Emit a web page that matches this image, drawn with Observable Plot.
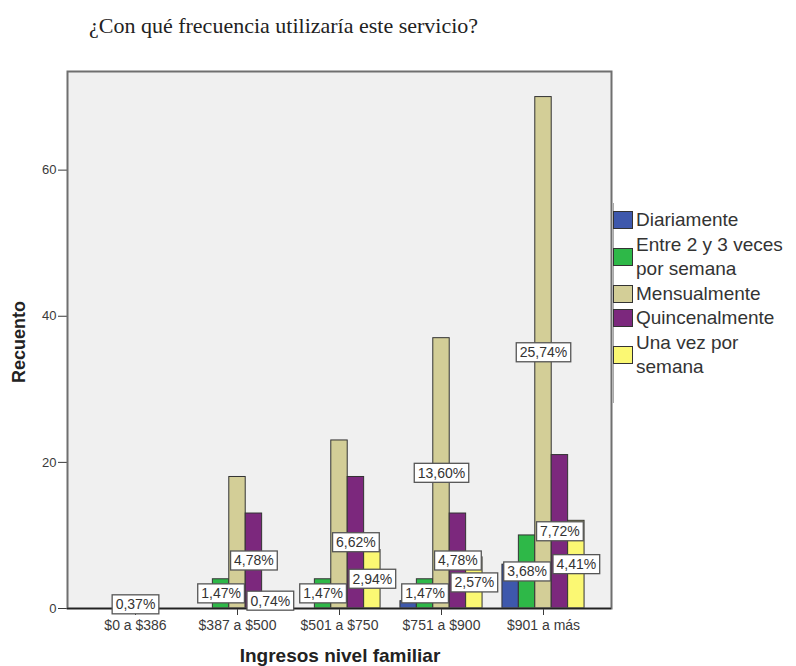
<!DOCTYPE html>
<html>
<head>
<meta charset="utf-8">
<script src="https://cdn.jsdelivr.net/npm/d3@7"></script>
<script src="https://cdn.jsdelivr.net/npm/@observablehq/plot@0.6"></script>
<style>
  body { margin: 0; background: #fff; }
  #lienzo { position: relative; width: 796px; height: 666px; overflow: hidden;
            font-family: "Liberation Sans", Arial, sans-serif; color: #333; }
  #titulo { position: absolute; left: 89px; top: 12px; white-space: nowrap;
            font-family: "Liberation Serif", "Times New Roman", serif;
            font-size: 22px; line-height: 28px; color: #222; }
  #grafico { position: absolute; left: 0; top: 48px; }
  #ejeY { position: absolute; left: 19px; top: 342px; white-space: nowrap;
          transform: translate(-50%, -50%) rotate(-90deg);
          font-weight: bold; font-size: 18px; color: #222; }
  #ejeX { position: absolute; left: 340px; top: 646px; white-space: nowrap;
          transform: translateX(-50%); line-height: 20px;
          font-weight: bold; font-size: 19px; color: #222; }
  #borde { position: absolute; left: 613px; top: 203px; width: 1px; height: 200px; background: #a8a8a8; }
  #leyenda { position: absolute; left: 613px; top: 208px; }
  .item { display: flex; align-items: center; }
  .muestra { width: 18px; height: 16px; border: 1px solid #333; margin-right: 3px; flex: none; }
  .nombre { font-size: 19px; line-height: 24.5px; width: 160px; color: #333; }
</style>
</head>
<body>
<div id="lienzo">
  <div id="titulo">¿Con qué frecuencia utilizaría este servicio?</div>
  <div id="grafico"></div>
  <div id="ejeY">Recuento</div>
  <div id="ejeX">Ingresos nivel familiar</div>
  <div id="borde"></div>
  <div id="leyenda"></div>
</div>
<script>
// Income brackets (x axis) and answer categories (series)
const grupos = ["$0 a $386", "$387 a $500", "$501 a $750", "$751 a $900", "$901 a más"];
const frecuencias = ["Diariamente", "Entre 2 y 3 veces por semana", "Mensualmente", "Quincenalmente", "Una vez por semana"];
const colores = ["#3e58ac", "#2eb848", "#d3ce97", "#7c287d", "#fbf873"];

// Counts per income bracket, one array per answer
const diariamente    = [0, 0, 0, 1, 6];
const entre2y3       = [0, 4, 4, 4, 10];
const mensualmente   = [1, 18, 23, 37, 70];
const quincenalmente = [0, 13, 18, 13, 21];
const unaVez         = [0, 2, 8, 7, 12];

// Bars whose percentage label is left out (it would collide with its neighbours)
const sinEtiqueta = [
  ["$387 a $500", "Mensualmente"],
  ["$501 a $750", "Mensualmente"],
  ["$751 a $900", "Diariamente"],
  ["$901 a más", "Diariamente"]
];
const ticksY = [0, 20, 40, 60];

const series = [diariamente, entre2y3, mensualmente, quincenalmente, unaVez];
const filas = grupos.flatMap((g, i) =>
  frecuencias.map((f, j) => ({grupo: g, frecuencia: f, n: series[j][i], i, j})));
const total = d3.sum(filas, d => d.n);

// Clustered layout: each bracket sits at an integer position, bars side by side
const ancho = 0.161;
const izq = d => d.i + (d.j - 2.5) * ancho;
const der = d => d.i + (d.j - 1.5) * ancho;
const centro = d => d.i + (d.j - 2) * ancho;
const porcentaje = d => (d.n / total * 100).toFixed(2).replace(".", ",") + "%";

const etiquetas = filas.filter(d => d.n > 0 &&
  !sinEtiqueta.some(([g, f]) => g === d.grupo && f === d.frecuencia));

const plot = Plot.plot({
  width: 796,
  height: 618,
  marginTop: 23,
  marginRight: 185,
  marginBottom: 58,
  marginLeft: 67,
  x: {domain: [-2 / 3, grupos.length - 1 + 2 / 3]},
  y: {domain: [0, 73.5]},
  color: {domain: frecuencias, range: colores},
  style: {fontFamily: "'Liberation Sans', Arial, sans-serif", color: "#3a3a3a", background: "transparent"},
  marks: [
    Plot.frame({fill: "#f0f0f0", stroke: null}),
    Plot.axisY(ticksY, {tickSize: 9, tickPadding: 2, label: null, fontSize: 13}),
    Plot.axisX(d3.range(grupos.length), {tickFormat: i => grupos[i], tickSize: 7, tickPadding: 5, label: null, fontSize: 14}),
    Plot.rect(filas.filter(d => d.n > 0), {
      x1: izq, x2: der, y1: 0, y2: "n",
      fill: "frecuencia", stroke: "#333", strokeWidth: 1
    }),
    Plot.frame({stroke: "#6f6f6f", strokeWidth: 2}),
    Plot.ruleY([0], {stroke: "#222", strokeWidth: 1.3}),
    Plot.text(etiquetas, {x: centro, y: d => d.n / 2, text: porcentaje, fontSize: 14, fill: "#333"})
  ]
});

document.getElementById("grafico").append(plot);

// White boxes behind the percentage labels
const ns = "http://www.w3.org/2000/svg";
plot.querySelectorAll('g[aria-label="text"] text').forEach(t => {
  const b = t.getBBox();
  const r = document.createElementNS(ns, "rect");
  r.setAttribute("x", b.x - 3.5);
  r.setAttribute("y", b.y - 1.5);
  r.setAttribute("width", b.width + 7);
  r.setAttribute("height", b.height + 3);
  r.setAttribute("fill", "#fff");
  r.setAttribute("stroke", "#555");
  r.setAttribute("stroke-width", 1.3);
  const tr = t.getAttribute("transform");
  if (tr) r.setAttribute("transform", tr);
  t.parentNode.insertBefore(r, t);
});

// Legend built from the chart's colour scale
const color = plot.scale("color");
const leyenda = document.getElementById("leyenda");
frecuencias.forEach(f => {
  const item = document.createElement("div");
  item.className = "item";
  const m = document.createElement("div");
  m.className = "muestra";
  m.style.background = color.apply(f);
  const s = document.createElement("div");
  s.className = "nombre";
  s.textContent = f;
  item.append(m, s);
  leyenda.append(item);
});
</script>
</body>
</html>
